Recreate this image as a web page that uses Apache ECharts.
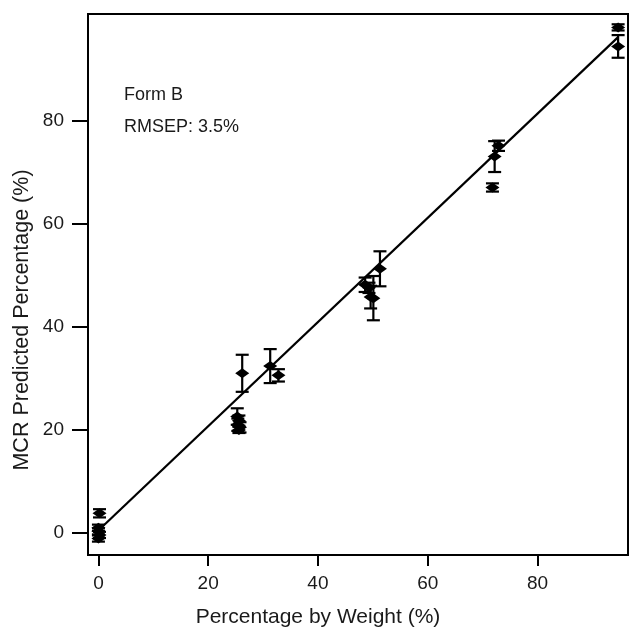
<!DOCTYPE html>
<html>
<head>
<meta charset="utf-8">
<script src="https://cdn.jsdelivr.net/npm/echarts@6/dist/echarts.min.js"></script>
<style>
html,body{margin:0;padding:0;background:#fff;}
#chart{width:630px;height:629px;}
</style>
</head>
<body>
<div id="chart"></div>
<script>
// Reference percentage by weight (x), MCR predicted percentage (y), error (+/-)
const weightPct = [0.2, 0, 0, 0.2, 0, 25.3, 25.6, 25.4, 25.8, 25.6, 26.2, 31.3, 32.8, 48.6, 49.3, 49.6, 50.1, 51.3, 72.2, 72.9, 71.8, 94.7, 94.7];
const predictedPct = [3.8, 1.0, 0.3, -0.4, -1.1, 22.6, 21.8, 21.0, 20.5, 20.0, 31.0, 32.4, 30.6, 48.2, 47.6, 45.8, 45.6, 51.3, 73.1, 75.2, 67.1, 98.2, 94.5];
const errorPct = [0.8, 0.6, 0.6, 0.6, 0.6, 1.6, 1.0, 1.2, 1.0, 0.6, 3.6, 3.3, 1.2, 1.4, 1.0, 2.2, 4.3, 3.4, 3.0, 1.0, 0.8, 0.6, 2.2];
// Regression line end points
const fitX = [0.7, 94.7];
const fitY = [1.2, 96.3];
// Tick labels
const xTicks = [0, 20, 40, 60, 80];
const yTicks = [0, 20, 40, 60, 80];
const annotations = ['Form B', 'RMSEP: 3.5%'];
const xTitle = 'Percentage by Weight (%)';
const yTitle = 'MCR Predicted Percentage (%)';

const FONT = '"Liberation Sans", Arial, Helvetica, sans-serif';
const chart = echarts.init(document.getElementById('chart'));

const errData = weightPct.map((x, i) => [x, predictedPct[i], errorPct[i]]);
const ptData = weightPct.map((x, i) => [x, predictedPct[i]]);
const fitData = fitX.map((x, i) => [x, fitY[i]]);

chart.setOption({
  animation: false,
  backgroundColor: '#fff',
  grid: {left: 88, right: 2, top: 14, bottom: 74, show: true, borderColor: '#000', borderWidth: 2, backgroundColor: 'transparent'},
  xAxis: {
    type: 'value', min: -1.9, max: 96.5,
    splitLine: {show: false},
    axisLine: {show: true, onZero: false, lineStyle: {color: '#000', width: 2}},
    axisTick: {show: true, length: 11, customValues: xTicks, lineStyle: {color: '#000', width: 2}},
    axisLabel: {customValues: xTicks, color: '#1a1a1a', fontSize: 19, fontFamily: FONT, margin: 19}
  },
  yAxis: {
    type: 'value', min: -4.3, max: 100.8,
    splitLine: {show: false},
    axisLine: {show: true, onZero: false, lineStyle: {color: '#000', width: 2}},
    axisTick: {show: true, length: 16, customValues: yTicks, lineStyle: {color: '#000', width: 2}},
    axisLabel: {customValues: yTicks, color: '#1a1a1a', fontSize: 19, fontFamily: FONT, margin: 24}
  },
  graphic: [
    {type: 'text', left: 124, top: 86, style: {text: annotations[0], fontSize: 18, fontFamily: FONT, fill: '#1a1a1a'}},
    {type: 'text', left: 124, top: 118, style: {text: annotations[1], fontSize: 18, fontFamily: FONT, fill: '#1a1a1a'}},
    {type: 'text', x: 318, y: 617, style: {text: xTitle, fontSize: 21, fontFamily: FONT, fill: '#1a1a1a', align: 'center', verticalAlign: 'middle'}},
    {type: 'text', x: 22, y: 320, rotation: Math.PI / 2, style: {text: yTitle, fontSize: 21.5, fontFamily: FONT, fill: '#1a1a1a', align: 'center', verticalAlign: 'middle'}}
  ],
  series: [
    {
      type: 'line', data: fitData, symbol: 'none', z: 2,
      lineStyle: {color: '#000', width: 2.2}
    },
    {
      type: 'custom', data: errData, z: 3,
      renderItem: function (params, api) {
        const x = api.value(0), y = api.value(1), e = api.value(2);
        const top = api.coord([x, y + e]);
        const bot = api.coord([x, y - e]);
        const hw = 6.5;
        const st = {stroke: '#000', lineWidth: 2.2};
        return {
          type: 'group',
          children: [
            {type: 'line', shape: {x1: top[0], y1: top[1], x2: bot[0], y2: bot[1]}, style: st},
            {type: 'line', shape: {x1: top[0] - hw, y1: top[1], x2: top[0] + hw, y2: top[1]}, style: st},
            {type: 'line', shape: {x1: bot[0] - hw, y1: bot[1], x2: bot[0] + hw, y2: bot[1]}, style: st}
          ]
        };
      }
    },
    {
      type: 'scatter', data: ptData, z: 4,
      symbol: 'diamond', symbolSize: [14, 10],
      itemStyle: {color: '#000', opacity: 1}
    }
  ]
});
</script>
</body>
</html>
